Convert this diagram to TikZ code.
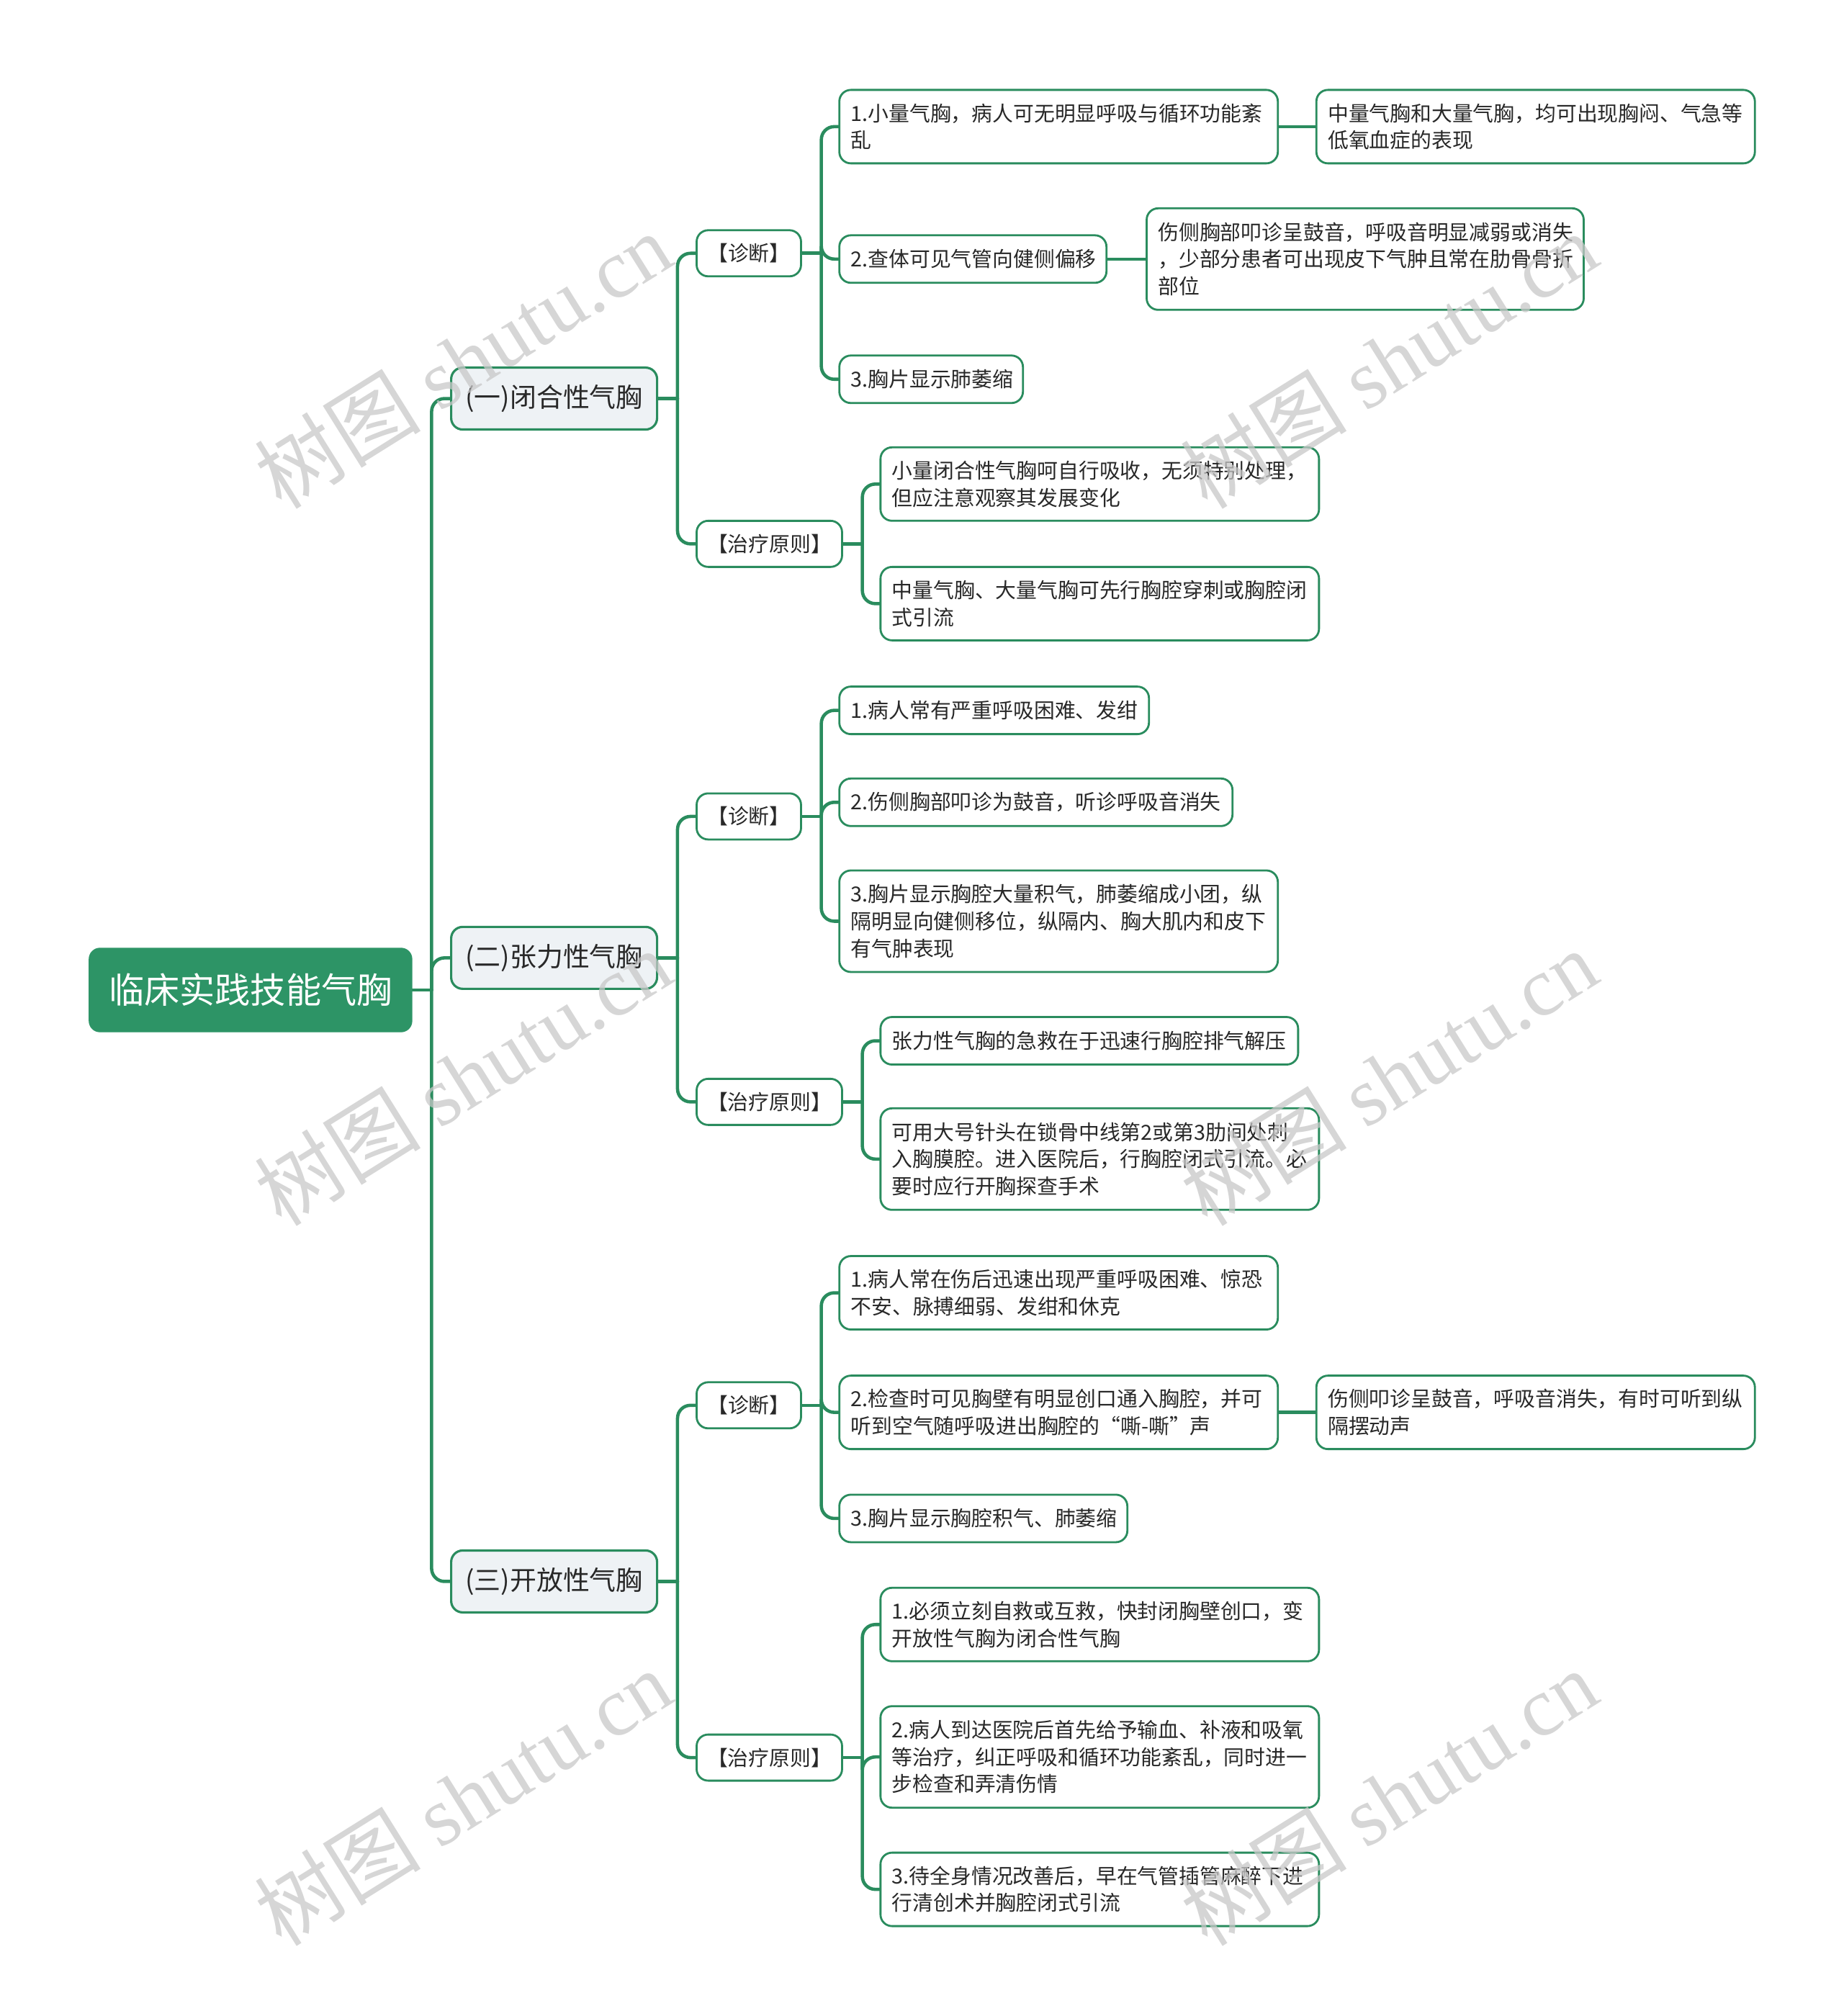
\documentclass[tikz,border=0pt]{standalone}
\usepackage{fontspec}
\setmainfont{Noto Sans CJK SC}
\newfontfamily\wmlatin{Liberation Serif}
\usetikzlibrary{backgrounds}
\definecolor{lc}{RGB}{42,140,94}
\definecolor{rootfill}{RGB}{45,148,102}
\definecolor{lonefill}{RGB}{238,242,245}
\definecolor{txt}{RGB}{40,40,40}
\definecolor{wm}{RGB}{200,200,200}
\begin{document}
\begin{tikzpicture}[x=0.178571mm, y=-0.178571mm,
 conn/.style={draw=lc, line width=1.3pt, rounded corners=1.8mm, line cap=round},
 rootbox/.style={draw=rootfill, fill=rootfill, rounded corners=1.5mm, anchor=west, minimum width=44.8mm, minimum height=11.6mm, inner sep=0pt, font=\fontsize{14pt}{16pt}\selectfont, text=white},
 topic/.style={draw=lc, line width=0.9pt, fill=lonefill, rounded corners=1.6mm, anchor=west, minimum width=28.6mm, minimum height=8.6mm, inner sep=0pt, font=\fontsize{10.5pt}{12pt}\selectfont, text=txt},
 tagbox/.style={draw=lc, line width=0.8pt, fill=white, rounded corners=1.6mm, anchor=west, minimum height=6.4mm, inner sep=0pt, font=\fontsize{8.2pt}{10.7pt}\selectfont, text=txt},
 leaf/.style={draw=lc, line width=0.8pt, fill=white, rounded corners=1.6mm, anchor=west, align=left, inner xsep=1.6mm, inner ysep=0pt, font=\fontsize{8.2pt}{10.7pt}\selectfont, text=txt},
 lnone/.style={minimum height=6.6mm}, lntwo/.style={minimum height=10.2mm}, lnthree/.style={minimum height=14.1mm},
 wmark/.style={text=wm, rotate=32, font=\fontsize{33pt}{36pt}\selectfont, text opacity=0.75}
]
\useasboundingbox (0,0) rectangle (1434,1568);

% root and topics
\node[rootbox] (root) at (69,770) {临床实践技能气胸};
\node[topic] (A) at (350,310) {(一)闭合性气胸};
\node[topic] (B) at (350,745) {(二)张力性气胸};
\node[topic] (C) at (350,1230) {(三)开放性气胸};

% tags
\node[tagbox, minimum width=14.5mm] (A1) at (541,197) {【诊断】};
\node[tagbox, minimum width=20.2mm] (A2) at (541,423) {【治疗原则】};
\node[tagbox, minimum width=14.5mm] (B1) at (541,635) {【诊断】};
\node[tagbox, minimum width=20.2mm] (B2) at (541,857) {【治疗原则】};
\node[tagbox, minimum width=14.5mm] (C1) at (541,1093) {【诊断】};
\node[tagbox, minimum width=20.2mm] (C2) at (541,1367) {【治疗原则】};

% leaves A
\node[leaf, lntwo, text width=57.7mm] (a11) at (652,98.5) {1.小量气胸，病人可无明显呼吸与循环功能紊\\乱};
\node[leaf, lntwo, text width=57.7mm] (a11x) at (1023,98.5) {中量气胸和大量气胸，均可出现胸闷、气急等\\低氧血症的表现};
\node[leaf, lnone, text width=33.9mm] (a12) at (652,201.5) {2.查体可见气管向健侧偏移};
\node[leaf, lnthree, text width=57.5mm] (a12x) at (891,201.5) {伤侧胸部叩诊呈鼓音，呼吸音明显减弱或消失\\，少部分患者可出现皮下气肿且常在肋骨骨折\\部位};
\node[leaf, lnone, text width=22.3mm] (a13) at (652,295) {3.胸片显示肺萎缩};
\node[leaf, lntwo, text width=57.7mm] (a21) at (684,376.5) {小量闭合性气胸呵自行吸收，无须特别处理，\\但应注意观察其发展变化};
\node[leaf, lntwo, text width=57.7mm] (a22) at (684,469.5) {中量气胸、大量气胸可先行胸腔穿刺或胸腔闭\\式引流};

% leaves B
\node[leaf, lnone, text width=39.8mm] (b11) at (652,552.5) {1.病人常有严重呼吸困难、发绀};
\node[leaf, lnone, text width=51.4mm] (b12) at (652,624) {2.伤侧胸部叩诊为鼓音，听诊呼吸音消失};
\node[leaf, lnthree, text width=57.7mm] (b13) at (652,716.5) {3.胸片显示胸腔大量积气，肺萎缩成小团，纵\\隔明显向健侧移位，纵隔内、胸大肌内和皮下\\有气肿表现};
\node[leaf, lnone, text width=54.8mm] (b21) at (684,809.5) {张力性气胸的急救在于迅速行胸腔排气解压};
\node[leaf, lnthree, text width=57.7mm] (b22) at (684,901.5) {可用大号针头在锁骨中线第2或第3肋间处刺\\入胸膜腔。进入医院后，行胸腔闭式引流。必\\要时应行开胸探查手术};

% leaves C
\node[leaf, lntwo, text width=57.7mm] (c11) at (652,1005.5) {1.病人常在伤后迅速出现严重呼吸困难、惊恐\\不安、脉搏细弱、发绀和休克};
\node[leaf, lntwo, text width=57.7mm] (c12) at (652,1098.5) {2.检查时可见胸壁有明显创口通入胸腔，并可\\听到空气随呼吸进出胸腔的“嘶-嘶”声};
\node[leaf, lntwo, text width=57.7mm] (c12x) at (1023,1098.5) {伤侧叩诊呈鼓音，呼吸音消失，有时可听到纵\\隔摆动声};
\node[leaf, lnone, text width=36.8mm] (c13) at (652,1181) {3.胸片显示胸腔积气、肺萎缩};
\node[leaf, lntwo, text width=57.7mm] (c21) at (684,1263.5) {1.必须立刻自救或互救，快封闭胸壁创口，变\\开放性气胸为闭合性气胸};
\node[leaf, lnthree, text width=57.7mm] (c22) at (684,1366.5) {2.病人到达医院后首先给予输血、补液和吸氧\\等治疗，纠正呼吸和循环功能紊乱，同时进一\\步检查和弄清伤情};
\node[leaf, lntwo, text width=57.7mm] (c23) at (684,1469.5) {3.待全身情况改善后，早在气管插管麻醉下进\\行清创术并胸腔闭式引流};

% connectors
\begin{scope}[on background layer]
\draw[conn] (root.east) -- ++(15,0) coordinate (r0);
\foreach \t in {A,B,C} \draw[conn] (r0) |- (\t.west);
\draw[conn] (A.east) -- ++(15,0) coordinate (ra);
\foreach \t in {A1,A2} \draw[conn] (ra) |- (\t.west);
\draw[conn] (B.east) -- ++(15,0) coordinate (rb);
\foreach \t in {B1,B2} \draw[conn] (rb) |- (\t.west);
\draw[conn] (C.east) -- ++(15,0) coordinate (rc);
\foreach \t in {C1,C2} \draw[conn] (rc) |- (\t.west);
\draw[conn] (A1.east) -- ++(15,0) coordinate (ra1);
\foreach \t in {a11,a12,a13} \draw[conn] (ra1) |- (\t.west);
\draw[conn] (A2.east) -- ++(15,0) coordinate (ra2);
\foreach \t in {a21,a22} \draw[conn] (ra2) |- (\t.west);
\draw[conn] (B1.east) -- ++(15,0) coordinate (rb1);
\foreach \t in {b11,b12,b13} \draw[conn] (rb1) |- (\t.west);
\draw[conn] (B2.east) -- ++(15,0) coordinate (rb2);
\foreach \t in {b21,b22} \draw[conn] (rb2) |- (\t.west);
\draw[conn] (C1.east) -- ++(15,0) coordinate (rc1);
\foreach \t in {c11,c12,c13} \draw[conn] (rc1) |- (\t.west);
\draw[conn] (C2.east) -- ++(15,0) coordinate (rc2);
\foreach \t in {c21,c22,c23} \draw[conn] (rc2) |- (\t.west);
\draw[conn] (a11.east) -- (a11x.west);
\draw[conn] (a12.east) -- (a12x.west);
\draw[conn] (c12.east) -- (c12x.west);
\end{scope}

% watermarks
\foreach \p [count=\i] in {(360,280),(1080,280),(360,838),(1080,838),(360,1398),(1080,1398)}
  \node[wmark] (wm\i) at \p {树图 {\wmlatin shutu.cn}};
\end{tikzpicture}
\end{document}
